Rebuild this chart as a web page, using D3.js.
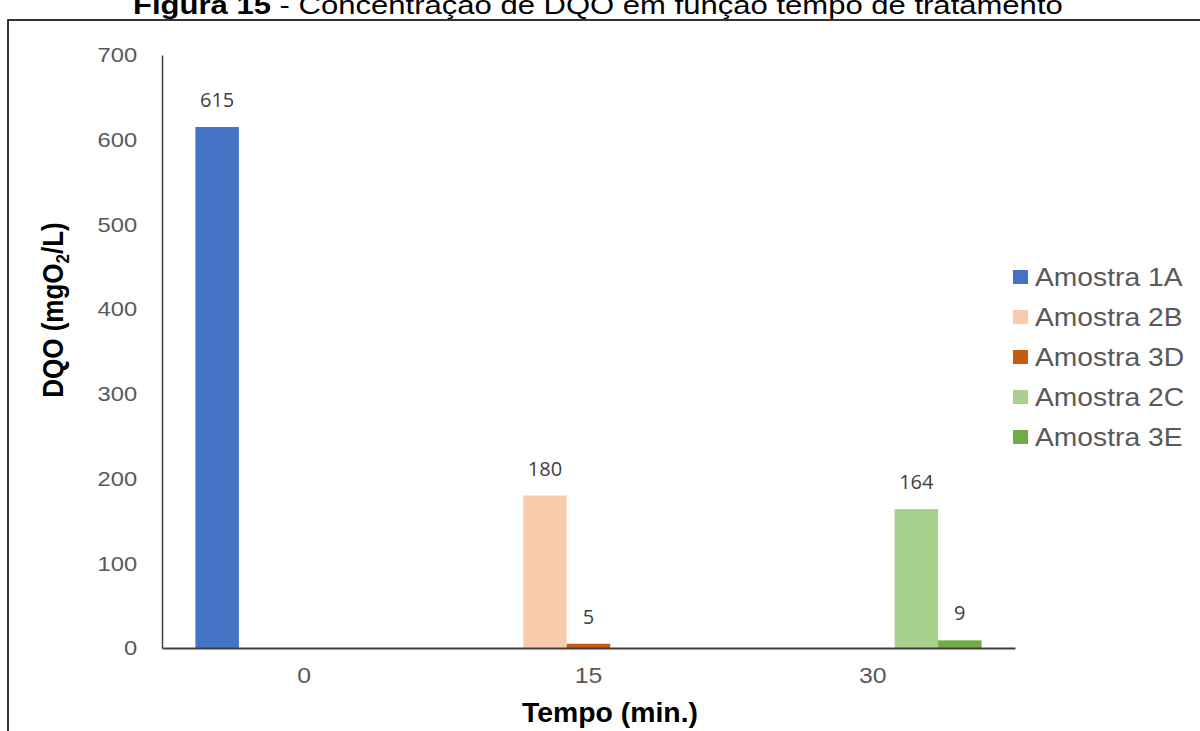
<!DOCTYPE html>
<html><head><meta charset="utf-8">
<script src="https://cdn.jsdelivr.net/npm/d3@7"></script>
<style>html,body{margin:0;padding:0;background:#fff;overflow:hidden}</style>
</head><body>
<svg id="chart" width="1200" height="731"></svg>
<script>
const categories = ["0", "15", "30"];
const seriesNames = ["Amostra 1A", "Amostra 2B", "Amostra 3D", "Amostra 2C", "Amostra 3E"];
const seriesColors = ["#4472C4", "#F8CBAD", "#C55A11", "#A9D18E", "#70AD47"];
const amostra1A = [615, null, null];
const amostra2B = [null, 180, null];
const amostra3D = [null, 5, null];
const amostra2C = [null, null, 164];
const amostra3E = [null, null, 9];
const seriesValues = [amostra1A, amostra2B, amostra3D, amostra2C, amostra3E];
const yTicks = [0, 100, 200, 300, 400, 500, 600, 700];

const svg = d3.select("#chart");
const SX = 1.13;

// frame
svg.append("rect").attr("x", 8).attr("y", 20).attr("width", 1220).attr("height", 760)
  .attr("fill", "none").attr("stroke", "#000").attr("stroke-width", 1.6);

// title (partly clipped at top, as in the source)
const title = svg.append("text").attr("font-family", "'Liberation Sans', Arial, sans-serif")
  .attr("font-size", 26).attr("fill", "#000").attr("text-anchor", "start");
title.append("tspan").attr("font-weight", "bold").text("Figura 15");
title.append("tspan").text(" - Concentração de DQO em função tempo de tratamento");
{
  const w = title.node().getComputedTextLength();
  const target = 930, left = 133;
  title.attr("transform", `translate(${left},14) scale(${target / w},1)`);
}

const x0 = d3.scaleBand().domain(categories).range([162, 1015]).padding(0);
const x1 = d3.scaleBand().domain(seriesNames).range([0, x0.bandwidth()]).paddingInner(0).paddingOuter(0.768);
const y = d3.scaleLinear().domain([0, 700]).range([648, 55]);

// y axis
const yAxis = svg.append("g").attr("transform", "translate(162,0)")
  .call(d3.axisLeft(y).tickValues(yTicks).tickSize(0).tickPadding(22));
yAxis.select(".domain").attr("stroke", "#404040").attr("stroke-width", 1.5);
yAxis.selectAll("text").attr("font-family", "'Liberation Sans', Arial, sans-serif")
  .attr("font-size", 21).attr("fill", "#595959").attr("transform", `scale(${SX},1)`);

// bars
const bars = svg.append("g");
seriesNames.forEach((name, si) => {
  categories.forEach((cat, ci) => {
    const v = seriesValues[si][ci];
    if (v === null) return;
    const bx = x0(cat) + x1(name);
    bars.append("rect").attr("x", bx).attr("y", y(v))
      .attr("width", x1.bandwidth()).attr("height", y(0) - y(v))
      .attr("fill", seriesColors[si]);
    bars.append("text").attr("x", bx + x1.bandwidth() / 2).attr("y", y(v) - 20)
      .attr("text-anchor", "middle").attr("font-family", "'Open Sans', sans-serif")
      .attr("font-size", 20).attr("fill", "#404040").text(v);
  });
});

// x axis
const xAxis = svg.append("g").attr("transform", "translate(0,648)")
  .call(d3.axisBottom(x0).tickSize(0).tickPadding(19).tickSizeOuter(0));
xAxis.select(".domain").attr("stroke", "#404040").attr("stroke-width", 2);
xAxis.selectAll("text").attr("font-family", "'Liberation Sans', Arial, sans-serif")
  .attr("font-size", 22).attr("fill", "#595959").attr("transform", `scale(${SX},1)`);

// axis titles
const xt = svg.append("text").attr("font-family", "'Liberation Sans', Arial, sans-serif")
  .attr("font-size", 27).attr("font-weight", "bold").attr("fill", "#000")
  .attr("text-anchor", "middle").text("Tempo (min.)");
{
  const w = xt.node().getComputedTextLength();
  xt.attr("transform", `translate(610,722) scale(${176 / w},1)`);
}

const yt = svg.append("text").attr("font-family", "'Liberation Sans', Arial, sans-serif")
  .attr("font-size", 26).attr("font-weight", "bold").attr("fill", "#000")
  .attr("text-anchor", "middle")
  .attr("transform", `translate(63,310) rotate(-90) scale(1,${SX})`);
yt.append("tspan").text("DQO (mgO");
yt.append("tspan").attr("font-size", 17).attr("dy", 5).text("2");
yt.append("tspan").attr("dy", -5).text("/L)");

// legend
const legend = svg.append("g");
seriesNames.forEach((name, i) => {
  const cy = 277 + i * 40;
  legend.append("rect").attr("x", 1013).attr("y", cy - 7).attr("width", 15).attr("height", 14)
    .attr("fill", seriesColors[i]);
  legend.append("text").attr("font-family", "'Liberation Sans', Arial, sans-serif")
    .attr("font-size", 25).attr("fill", "#595959")
    .attr("transform", `translate(1035,${cy + 9}) scale(${SX},1)`).text(name);
});
</script>
</body></html>
